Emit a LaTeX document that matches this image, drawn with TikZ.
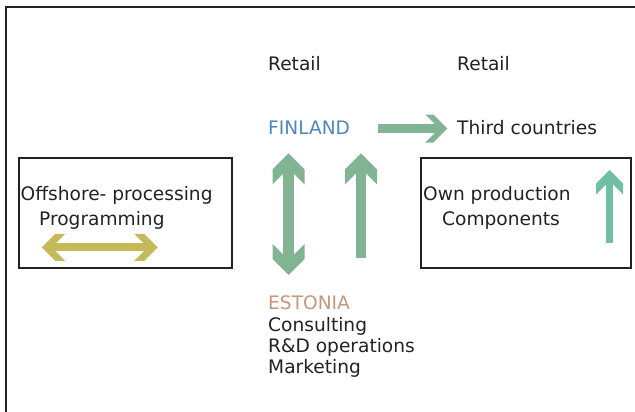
\documentclass[tikz,border=0pt]{standalone}
\usepackage{fontspec}
\setmainfont{DejaVu Sans}
\usepackage{xcolor}
\usepackage{tikz}
\usetikzlibrary{arrows.meta}

\definecolor{flowgreen}{RGB}{130,180,148}
\definecolor{flowteal}{RGB}{112,190,164}
\definecolor{flowolive}{RGB}{196,186,90}
\definecolor{finblue}{RGB}{74,136,196}
\definecolor{esttan}{RGB}{196,150,122}
\definecolor{inkgray}{RGB}{34,34,34}

% chevron head: length = thickness along the shaft, width = wing span
\pgfdeclarearrow{
  name = Chevron,
  parameters = {\the\pgfarrowlength,\the\pgfarrowwidth},
  setup code = {
    \pgfarrowssettipend{0pt}
    \pgfarrowssetlineend{-\pgfarrowlength}
    \pgfarrowssavethe\pgfarrowlength
    \pgfarrowssavethe\pgfarrowwidth
  },
  drawing code = {
    \pgfpathmoveto{\pgfqpoint{0pt}{0pt}}
    \pgfpathlineto{\pgfpoint{-.5\pgfarrowwidth}{.5\pgfarrowwidth}}
    \pgfpathlineto{\pgfpoint{-.5\pgfarrowwidth-\pgfarrowlength}{.5\pgfarrowwidth}}
    \pgfpathlineto{\pgfpoint{-\pgfarrowlength}{0pt}}
    \pgfpathlineto{\pgfpoint{-.5\pgfarrowwidth-\pgfarrowlength}{-.5\pgfarrowwidth}}
    \pgfpathlineto{\pgfpoint{-.5\pgfarrowwidth}{-.5\pgfarrowwidth}}
    \pgfpathclose
    \pgfusepathqfill
  },
  defaults = {length=8pt, width=28pt}
}

\tikzset{
  txt/.style={anchor=base west, inner sep=0pt, text=inkgray,
    font=\fontsize{18.6pt}{21.3pt}\selectfont},
  unitbox/.style={draw=inkgray, line width=1.8pt, inner sep=0pt,
    anchor=north west, minimum width=213pt, minimum height=110pt},
}

\begin{document}
\begin{tikzpicture}[x=1pt, y=-1pt]
        \useasboundingbox (0,0) rectangle (635,412);
        \draw [inkgray, line width=2pt] (6,412) -- (6,7) -- (635,7);

        \node [txt] (retailfi) at (268,71) {Retail};
        \node [txt] (retailthird) at (457,71) {Retail};
        \node [txt, text=finblue] (fin) at (268,134.5) {FINLAND};
        \node [txt] (third) at (457,134.5) {Third countries};

        \node [unitbox] (offbox) at (18,157) {};
        \node [txt] (offshore) at (20.5,200) {Offshore- processing};
        \node [txt] (prog) at (39,225.5) {Programming};

        \node [unitbox, minimum width=210pt] (ownbox) at (420,157) {};
        \node [txt] (own) at (423,200) {Own production};
        \node [txt] (comp) at (442,225.5) {Components};

        \node [txt, text=esttan] (est) at (268,309.3) {ESTONIA};
        \node [txt] (consult) at (268,331) {Consulting};
        \node [txt] (rnd) at (268,352.3) {R\&D operations};
        \node [txt] (mark) at (268,373.3) {Marketing};

        \coordinate (finout) at (378.3,128.5);
        \coordinate (thirdin) at (447.3,128.5);
        \coordinate (finsouth) at (288.5,153.3);
        \coordinate (estnorth) at (288.5,275);
        \coordinate (upfoot) at (361,258.3);
        \coordinate (uptip) at (361,153.3);
        \coordinate (ownfoot) at (609.5,242.7);
        \coordinate (owntip) at (609.5,170);
        \coordinate (offwest) at (41.7,247.3);
        \coordinate (offeast) at (157.7,247.3);

        \draw [flowgreen, line width=8.5pt, -{Chevron[length=8pt, width=28pt]}] (finout) -- (thirdin);
        \draw [flowgreen, line width=11pt, {Chevron[length=15pt, width=32pt]}-{Chevron[length=15pt, width=32pt]}] (finsouth) -- (estnorth);
        \draw [flowgreen, line width=9.5pt, -{Chevron[length=15pt, width=32pt]}] (upfoot) -- (uptip);
        \draw [flowteal, line width=7pt, -{Chevron[length=11pt, width=27pt]}] (ownfoot) -- (owntip);
        \draw [flowolive, line width=8pt, {Chevron[length=10pt, width=27pt]}-{Chevron[length=10pt, width=27pt]}] (offwest) -- (offeast);
        \end{tikzpicture}
\end{document}
